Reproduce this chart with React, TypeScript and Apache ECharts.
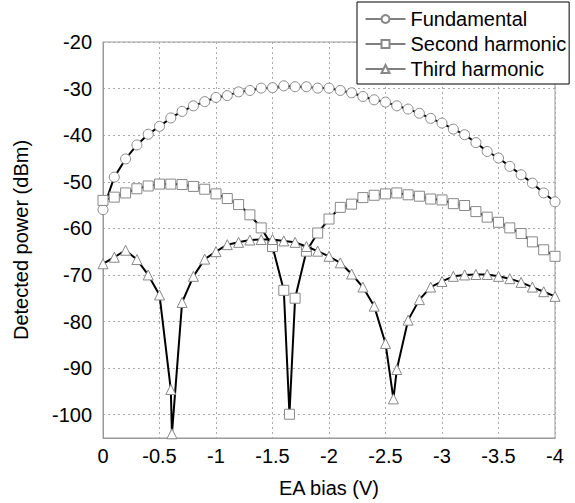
import React, { useEffect, useRef } from 'react';
import * as echarts from 'echarts';

const seriesNames = ['Fundamental', 'Second harmonic', 'Third harmonic'];

const fundX = [0, -0.1, -0.2, -0.3, -0.4, -0.5, -0.6, -0.7, -0.8, -0.9, -1.0, -1.1, -1.2, -1.3, -1.4, -1.5, -1.6, -1.7, -1.8, -1.9, -2.0, -2.1, -2.2, -2.3, -2.4, -2.5, -2.6, -2.7, -2.8, -2.9, -3.0, -3.1, -3.2, -3.3, -3.4, -3.5, -3.6, -3.7, -3.8, -3.9, -4.0];
const fundY = [-56.0, -49.0, -45.1, -42.1, -39.8, -38.1, -36.3, -34.9, -33.7, -32.8, -31.9, -31.5, -30.7, -30.4, -29.9, -29.8, -29.4, -29.6, -29.6, -29.9, -29.9, -30.4, -30.9, -31.7, -32.4, -32.9, -33.7, -34.4, -35.3, -36.4, -37.4, -38.7, -39.9, -41.6, -43.5, -44.9, -46.7, -48.5, -50.3, -52.4, -54.3];

const secX = [0, -0.1, -0.2, -0.3, -0.4, -0.5, -0.6, -0.7, -0.8, -0.9, -1.0, -1.1, -1.2, -1.3, -1.4, -1.5, -1.6, -1.65, -1.7, -1.8, -1.9, -2.0, -2.1, -2.2, -2.3, -2.4, -2.5, -2.6, -2.7, -2.8, -2.9, -3.0, -3.1, -3.2, -3.3, -3.4, -3.5, -3.6, -3.7, -3.8, -3.9, -4.0];
const secY = [-54.0, -53.3, -52.4, -51.5, -50.9, -50.5, -50.5, -50.6, -51.0, -51.6, -52.6, -53.6, -54.9, -57.1, -59.9, -63.9, -73.3, -99.9, -75.0, -64.9, -61.0, -58.0, -55.5, -54.8, -53.4, -52.9, -52.6, -52.4, -52.8, -53.1, -53.7, -53.9, -54.7, -55.1, -56.4, -57.6, -58.7, -59.9, -61.1, -62.9, -64.6, -66.0];

const thirdX = [0, -0.1, -0.2, -0.3, -0.4, -0.5, -0.6, -0.61, -0.7, -0.8, -0.9, -1.0, -1.1, -1.2, -1.3, -1.4, -1.5, -1.6, -1.7, -1.8, -1.9, -2.0, -2.1, -2.2, -2.3, -2.4, -2.5, -2.57, -2.6, -2.7, -2.8, -2.9, -3.0, -3.1, -3.2, -3.3, -3.4, -3.5, -3.6, -3.7, -3.8, -3.9, -4.0];
const thirdY = [-67.6, -66.2, -64.7, -66.7, -70.0, -74.3, -94.6, -104.1, -75.9, -70.3, -66.6, -65.0, -63.5, -63.0, -62.5, -62.4, -62.4, -62.7, -63.0, -63.9, -64.9, -66.0, -67.4, -69.8, -72.6, -76.7, -84.7, -96.6, -90.3, -79.7, -75.3, -72.6, -71.4, -70.3, -70.0, -69.9, -69.9, -70.3, -70.8, -71.6, -72.6, -73.6, -74.6];

const yTicks = [-100, -90, -80, -70, -60, -50, -40, -30, -20];

const FONT = '"Liberation Sans", Arial, sans-serif';
const FS = 20;

function pairs(xs: number[], ys: number[]) {
  return xs.map((x, i) => [x, ys[i]]);
}

export default function App() {
  const ref = useRef<HTMLDivElement>(null);
  useEffect(() => {
    document.body.style.margin = '0';
    const chart = echarts.init(ref.current!, null, { renderer: 'svg' });
    const symbols = ['circle', 'rect', 'triangle'];
    const datas = [pairs(fundX, fundY), pairs(secX, secY), pairs(thirdX, thirdY)];
    chart.setOption({
      animation: false,
      backgroundColor: '#fff',
      textStyle: { fontFamily: FONT },
      grid: {
        left: 103,
        right: 20,
        top: 42,
        bottom: 65,
        show: true,
        borderColor: '#999',
        borderWidth: 1,
      },
      legend: {
        orient: 'vertical',
        left: 357,
        top: 2,
        padding: [7, 3, 5, 8],
        itemWidth: 40,
        itemHeight: 10,
        itemGap: 5,
        backgroundColor: '#fff',
        borderColor: '#000',
        borderWidth: 1,
        borderRadius: 0,
        lineStyle: { width: 1, color: '#000' },
        textStyle: { fontSize: FS, color: '#000', fontFamily: FONT },
        data: seriesNames,
      },
      xAxis: {
        type: 'value',
        min: -4,
        max: 0,
        interval: 0.5,
        inverse: true,
        name: 'EA bias (V)',
        nameLocation: 'middle',
        nameGap: 40,
        nameTextStyle: { fontSize: FS, color: '#000', fontFamily: FONT },
        axisLine: { show: true, lineStyle: { color: '#999', width: 1 } },
        axisTick: { show: false },
        axisLabel: { fontSize: FS, color: '#000', margin: 8, fontFamily: FONT },
        splitLine: { show: true, lineStyle: { color: '#aaa', type: [2, 3], width: 1 } },
      },
      yAxis: {
        type: 'value',
        min: -105,
        max: -20,
        name: 'Detected power (dBm)',
        nameLocation: 'middle',
        nameGap: 72,
        nameRotate: 90,
        nameTextStyle: { fontSize: FS, color: '#000', fontFamily: FONT },
        axisLine: { show: true, lineStyle: { color: '#999', width: 1 } },
        axisTick: { show: false, customValues: yTicks },
        axisLabel: { fontSize: FS, color: '#000', margin: 11, fontFamily: FONT, customValues: yTicks },
        splitLine: { show: true, lineStyle: { color: '#aaa', type: [2, 3], width: 1 } },
      },
      series: seriesNames.map((name, i) => ({
        name,
        type: 'line',
        data: datas[i],
        symbol: symbols[i],
        symbolSize: 10,
        showSymbol: true,
        lineStyle: { color: '#000', width: 2 },
        itemStyle: { color: '#fff', borderColor: '#888', borderWidth: 1 },
        z: 2 + i,
      })),
    });
    return () => chart.dispose();
  }, []);
  return <div ref={ref} style={{ width: 575, height: 503 }} />;
}
